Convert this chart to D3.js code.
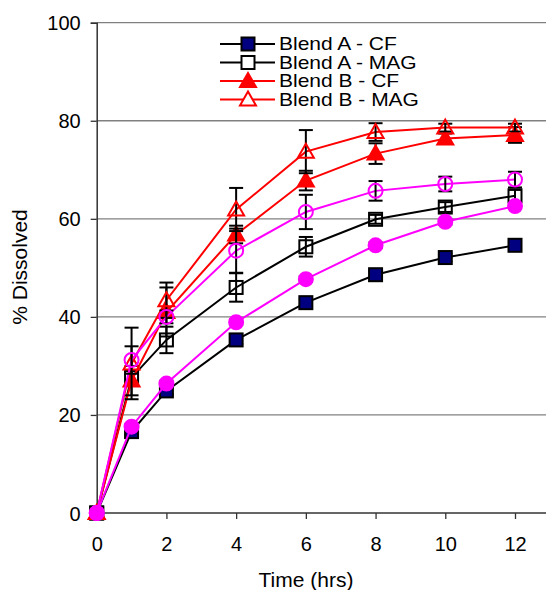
<!DOCTYPE html>
<html><head><meta charset="utf-8">
<script src="https://cdn.jsdelivr.net/npm/d3@7"></script>
<style>body{margin:0;background:#fff}svg{display:block}text{font-family:"Liberation Sans",Arial,sans-serif;fill:#000}</style>
</head><body><svg id="c" width="546" height="590"></svg>
<script>
const times = [0, 1, 2, 4, 6, 8, 10, 12];
const yTicks = [0, 20, 40, 60, 80, 100];
const xTicks = [0, 2, 4, 6, 8, 10, 12];
const blendACF  = [0, 16.6, 24.9, 35.3, 42.9, 48.6, 52.1, 54.6];
const blendACFErr = [0, 0.8, 0.8, 0.8, 0.8, 0.8, 0.8, 0.8];
const blendAMAG = [0, 27.6, 35.3, 46.0, 54.3, 59.9, 62.4, 64.7];
const blendAMAGErr = [0, 1.5, 2.7, 2.9, 2.0, 0.9, 1.0, 1.2];
const blendBCF  = [0, 27.0, 41.0, 56.8, 67.8, 73.3, 76.4, 77.1];
const blendBCFErr = [0, 3.0, 5.0, 1.8, 2.0, 2.1, 1.0, 1.6];
const blendBMAG = [0, 30.5, 43.4, 61.9, 73.7, 77.7, 78.6, 78.6];
const blendBMAGErr = [0, 7.3, 3.6, 4.4, 4.4, 1.8, 0.8, 0.8];
const magCF  = [0, 17.6, 26.4, 38.9, 47.7, 54.6, 59.4, 62.6];
const magCFErr = [0, 0.6, 0.6, 0.6, 0.6, 0.6, 0.6, 0.6];
const magMAG = [0, 31.2, 40.0, 53.5, 61.4, 65.7, 67.1, 68.0];
const magMAGErr = [0, 2.8, 1.3, 4.5, 3.5, 2.0, 1.5, 1.6];
const legendLabels = ["Blend A - CF", "Blend A - MAG", "Blend B - CF", "Blend B - MAG"];

const series = [
  {name: legendLabels[0], v: blendACF, e: blendACFErr, line: "#000", shape: "square", fill: "#000080", stroke: "#000"},
  {name: legendLabels[1], v: blendAMAG, e: blendAMAGErr, line: "#000", shape: "square", fill: "none", stroke: "#000"},
  {name: legendLabels[2], v: blendBCF, e: blendBCFErr, line: "#ff0000", shape: "triangle", fill: "#ff0000", stroke: "#ff0000"},
  {name: legendLabels[3], v: blendBMAG, e: blendBMAGErr, line: "#ff0000", shape: "triangle", fill: "none", stroke: "#ff0000"},
  {name: null, v: magCF, e: magCFErr, line: "#ff00ff", shape: "circle", fill: "#ff00ff", stroke: "#ff00ff"},
  {name: null, v: magMAG, e: magMAGErr, line: "#ff00ff", shape: "circle", fill: "none", stroke: "#ff00ff"}
];

const svg = d3.select("#c");
const x = d3.scaleLinear().domain([0, 12]).range([96.7, 515]);
const y = d3.scaleLinear().domain([0, 100]).range([513, 22.7]);

// gridlines
svg.append("g").selectAll("line").data(yTicks.filter(d => d > 0)).join("line")
  .attr("x1", 96.7).attr("x2", 546).attr("y1", d => y(d)).attr("y2", d => y(d))
  .attr("stroke", "#808080").attr("stroke-width", 1.3);

// y axis
const yAxis = svg.append("g").attr("transform", "translate(96.7,0)")
  .call(d3.axisLeft(y).tickValues(yTicks).tickSize(6).tickPadding(10).tickFormat(d3.format("d")));
yAxis.select(".domain").attr("stroke", "#333").attr("stroke-width", 1.5);
yAxis.selectAll(".tick line").attr("stroke", "#333").attr("stroke-width", 1.3);
yAxis.selectAll("text").style("font-size", "20px").attr("dy", "0.35em");

// x axis
const xAxis = svg.append("g").attr("transform", "translate(0,513)")
  .call(d3.axisBottom(x).tickValues(xTicks).tickSize(6).tickPadding(18).tickFormat(d3.format("d")));
xAxis.select(".domain").remove();
svg.append("line").attr("x1", 96.7).attr("x2", 546).attr("y1", 513).attr("y2", 513)
  .attr("stroke", "#333").attr("stroke-width", 1.5);
xAxis.selectAll(".tick line").attr("stroke", "#333").attr("stroke-width", 1.3);
xAxis.selectAll("text").style("font-size", "20px");

// titles
svg.append("text").attr("x", 306).attr("y", 587).attr("text-anchor", "middle")
  .style("font-size", "21px").text("Time (hrs)");
svg.append("text").attr("transform", "translate(27,267) rotate(-90)").attr("text-anchor", "middle")
  .style("font-size", "21px").text("% Dissolved");

function marker(g, shape, fill, stroke, cx, cy) {
  if (shape === "square") {
    g.append("rect").attr("x", cx - 6.5).attr("y", cy - 6.5).attr("width", 13).attr("height", 13)
      .attr("fill", fill).attr("stroke", stroke).attr("stroke-width", 2);
  } else if (shape === "circle") {
    g.append("circle").attr("cx", cx).attr("cy", cy).attr("r", 7)
      .attr("fill", fill).attr("stroke", stroke).attr("stroke-width", 2);
  } else {
    const s = 8;
    g.append("path").attr("d", `M${cx},${cy - s}L${cx + s},${cy + s * 0.75}L${cx - s},${cy + s * 0.75}Z`)
      .attr("fill", fill).attr("stroke", stroke).attr("stroke-width", 2).attr("stroke-linejoin", "miter");
  }
}

const line = d3.line().x((d, i) => x(times[i])).y(d => y(d));
series.forEach(s => {
  const g = svg.append("g");
  g.append("path").attr("d", line(s.v)).attr("fill", "none").attr("stroke", s.line).attr("stroke-width", 2);
  s.v.forEach((v, i) => {
    const err = s.e[i];
    if (err > 0) {
      const cx = x(times[i]);
      g.append("line").attr("x1", cx).attr("x2", cx).attr("y1", y(v - err)).attr("y2", y(v + err))
        .attr("stroke", "#000").attr("stroke-width", 2);
      [v - err, v + err].forEach(t => g.append("line").attr("x1", cx - 7).attr("x2", cx + 7)
        .attr("y1", y(t)).attr("y2", y(t)).attr("stroke", "#000").attr("stroke-width", 2));
    }
  });
  s.v.forEach((v, i) => marker(g, s.shape, s.fill, s.stroke, x(times[i]), y(v)));
});

// legend
const lg = svg.append("g");
const rowY = [44, 62.5, 81, 99.5];
series.filter(s => s.name).forEach((s, i) => {
  lg.append("line").attr("x1", 220).attr("x2", 275).attr("y1", rowY[i]).attr("y2", rowY[i])
    .attr("stroke", s.line).attr("stroke-width", 2);
  marker(lg, s.shape, s.fill === "none" ? "#fff" : s.fill, s.stroke, 248, rowY[i]);
  lg.append("text").attr("transform", `translate(279,${rowY[i]}) scale(1.2,1)`).attr("dy", "0.36em")
    .style("font-size", "17.5px").text(s.name);
});
</script></body></html>
